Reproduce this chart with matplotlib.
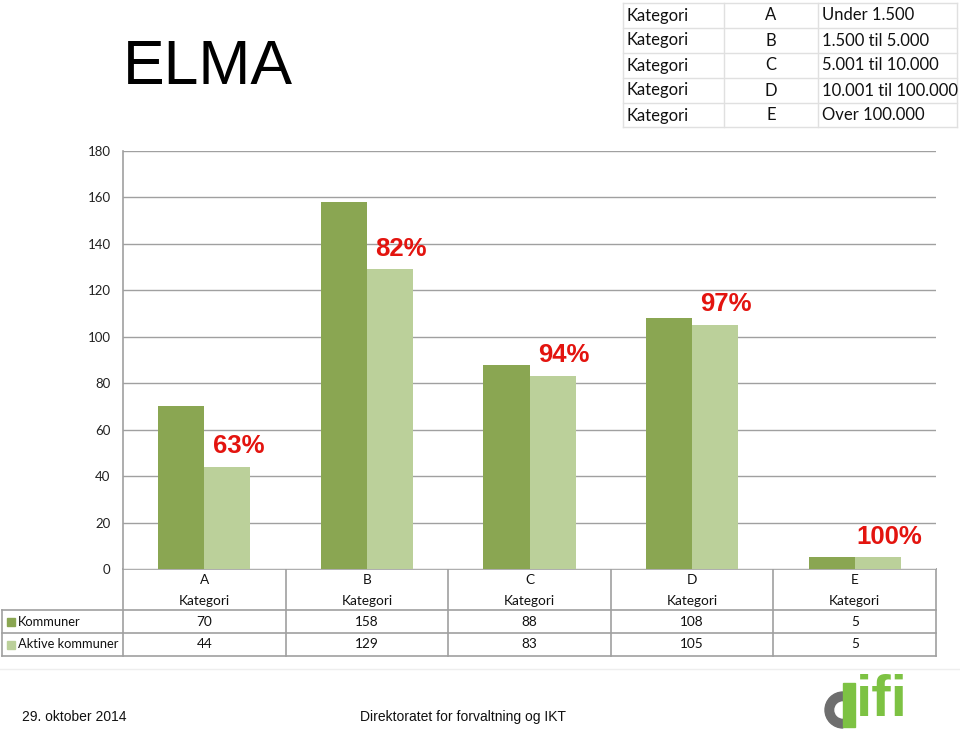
import matplotlib
matplotlib.use("Agg")
import matplotlib.pyplot as plt
from matplotlib.patches import Rectangle, Wedge

# ---------------- data ----------------
categories = ["A", "B", "C", "D", "E"]
cat_word = "Kategori"
ranges = ["Under 1.500", "1.500 til 5.000", "5.001 til 10.000", "10.001 til 100.000", "Over 100.000"]
series_names = ["Kommuner", "Aktive kommuner"]
kommuner = [70, 158, 88, 108, 5]
aktive = [44, 129, 83, 105, 5]
yticks = [0, 20, 40, 60, 80, 100, 120, 140, 160, 180]
title = "ELMA"
footer_date = "29. oktober 2014"
footer_org = "Direktoratet for forvaltning og IKT"

DARK = "#8AA652"
LIGHT = "#BBD09A"
RED = "#E3140F"
GRID = "#A0A0A0"
CAL = ["Lato", "DejaVu Sans"]
ARIAL = ["Liberation Sans", "DejaVu Sans"]
NARROW = ["Liberation Sans Narrow", "Liberation Sans", "DejaVu Sans"]

W, H = 960, 732
fig = plt.figure(figsize=(W / 100, H / 100), dpi=100)
fig.patch.set_facecolor("white")

ax = fig.add_axes([123 / W, 1 - 569 / H, (936 - 123) / W, (569 - 151) / H])
n = len(categories)
bw = 0.283
xs = list(range(n))
ax.bar([x - bw / 2 for x in xs], kommuner, width=bw, color=DARK, zorder=3)
ax.bar([x + bw / 2 for x in xs], aktive, width=bw, color=LIGHT, zorder=3)
ax.set_xlim(-0.5, n - 0.5)
ax.set_ylim(0, 180)
ax.set_yticks(yticks)
ax.set_yticklabels([str(t) for t in yticks], fontfamily=CAL, fontsize=9.5, color="#222222")
ax.tick_params(axis="y", length=0, pad=9)
ax.tick_params(axis="x", length=0, labelbottom=False)
ax.grid(axis="y", color=GRID, linewidth=1.0, zorder=0)
for s in ["top", "right", "bottom"]:
    ax.spines[s].set_visible(False)
ax.spines["left"].set_color(GRID)
ax.spines["left"].set_linewidth(1.2)

# percentage labels
for x, k, a in zip(xs, kommuner, aktive):
    pct = round(a / k * 100)
    ax.annotate(f"{pct}%", xy=(x + bw / 2, a), xytext=(8, 15), textcoords="offset points",
                ha="center", va="center", color=RED, fontsize=18.5, fontweight="bold",
                fontfamily=ARIAL, zorder=5)

# ---------------- decoration overlay (pixel coordinates) ----------------
deco = fig.add_axes([0, 0, 1, 1], zorder=-1)
deco.set_xlim(0, W)
deco.set_ylim(H, 0)
deco.axis("off")
deco.patch.set_alpha(0)

fig.canvas.draw()
def px(xdata):
    return ax.transData.transform((xdata, 0))[0]

# data table under chart
y0, y1, y2, y3 = 569, 610, 633, 656
left_lbl = 2
xr = px(n - 0.5)
deco.plot([px(-0.5), xr], [y0, y0], color=GRID, lw=1.2)
for yy in (y1, y2, y3):
    deco.plot([left_lbl, xr], [yy, yy], color=GRID, lw=1.2)
deco.plot([left_lbl, left_lbl], [y1, y3], color=GRID, lw=1.2)
for i in range(n + 1):
    xb = px(i - 0.5)
    deco.plot([xb, xb], [y0, y3], color=GRID, lw=1.2)
for i, c in enumerate(categories):
    xc = px(i)
    deco.text(xc, 580, c, ha="center", va="center", fontsize=9.8, fontfamily=CAL, color="#111111")
    deco.text(xc, 601, cat_word, ha="center", va="center", fontsize=9.8, fontfamily=CAL, color="#111111")
    deco.text(xc, (y1 + y2) / 2, str(kommuner[i]), ha="center", va="center", fontsize=9.8, fontfamily=CAL, color="#111111")
    deco.text(xc, (y2 + y3) / 2, str(aktive[i]), ha="center", va="center", fontsize=9.8, fontfamily=CAL, color="#111111")
for (ya, yb), name, col in zip([(y1, y2), (y2, y3)], series_names, [DARK, LIGHT]):
    ym = (ya + yb) / 2
    deco.add_patch(Rectangle((7, ym - 4), 8, 8, color=col))
    deco.text(18, ym, name, ha="left", va="center", fontsize=9.3, fontfamily=CAL, color="#111111")

# title
deco.text(208, 68, title, ha="center", va="center", fontsize=45, fontfamily=ARIAL, color="#000000")

# top-right legend table
tx = [623, 724, 818, 957]
row_h = 25
ty0 = 3
for r in range(len(categories) + 1):
    yy = ty0 + r * row_h - (1 if r == len(categories) else 0)
    deco.plot([tx[0], tx[-1]], [yy, yy], color="#E0E0E0", lw=1.0)
for xv in tx:
    deco.plot([xv, xv], [ty0, ty0 + len(categories) * row_h - 1], color="#E0E0E0", lw=1.0)
for r, (c, rg) in enumerate(zip(categories, ranges)):
    ym = ty0 + r * row_h + row_h / 2
    deco.text(626, ym, cat_word, ha="left", va="center", fontsize=12, fontfamily=CAL, color="#111111")
    deco.text((tx[1] + tx[2]) / 2, ym, c, ha="center", va="center", fontsize=12, fontfamily=CAL, color="#111111")
    deco.text(822, ym, rg, ha="left", va="center", fontsize=12, fontfamily=CAL, color="#111111")

# footer
deco.plot([0, W], [669, 669], color="#EEEEEE", lw=1.0)
deco.text(22, 717, footer_date, ha="left", va="center", fontsize=10, fontfamily=NARROW, color="#111111")
deco.text(360, 717, footer_org, ha="left", va="center", fontsize=10, fontfamily=NARROW, color="#111111")

# difi logo
deco.add_patch(Wedge((843, 710), 18, 90, 270, color="#6E6E6E"))
deco.add_patch(Wedge((843, 710), 8, 90, 270, color="white"))
deco.add_patch(Rectangle((843, 683), 12, 44, color="#7DC243"))
deco.text(856, 728, "ifi", ha="left", va="bottom", fontsize=42, fontweight="bold",
          fontfamily=ARIAL, color="#7DC243")

fig.savefig("out.png", dpi=100, facecolor="white")
